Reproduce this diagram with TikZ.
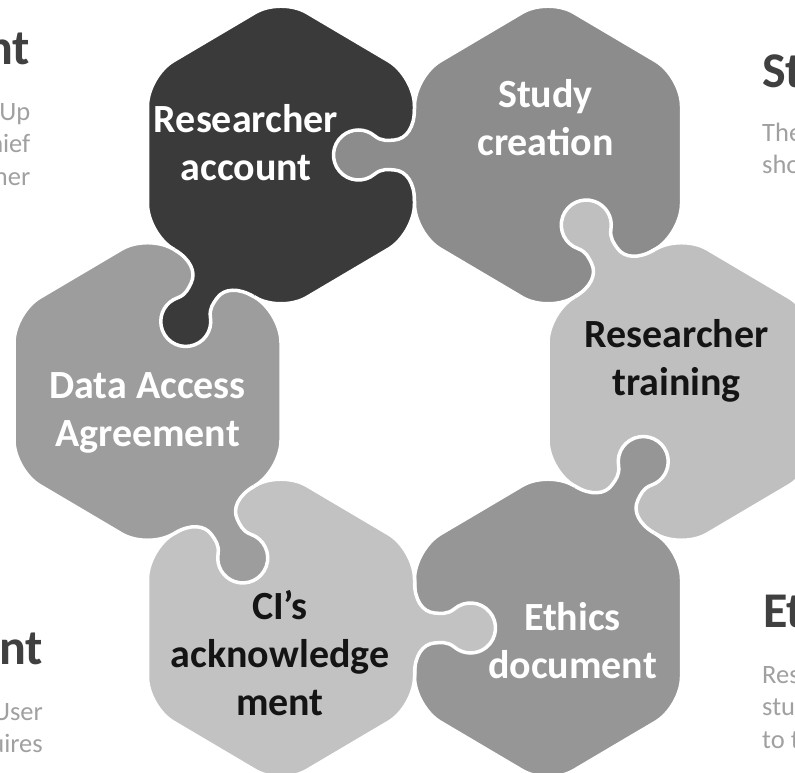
\documentclass[tikz,border=0pt]{standalone}
\usepackage{fontspec}
\setmainfont{Carlito}
\usetikzlibrary{calc}
\definecolor{cA}{HTML}{3A3A3A}
\definecolor{cB}{HTML}{8C8C8C}
\definecolor{cC}{HTML}{BFBFBF}
\definecolor{cD}{HTML}{969696}
\definecolor{cE}{HTML}{C2C2C2}
\definecolor{cF}{HTML}{9D9D9D}
\definecolor{headgray}{HTML}{404040}
\definecolor{bodygray}{HTML}{A0A0A0}
\definecolor{darktext}{HTML}{141414}
\begin{document}
\begin{tikzpicture}[x=1pt,y=1pt,
  hexcell/.style={draw=white, line width=3.5pt, rounded corners=30pt},
  pics/hexa/.style={code={
    \path[hexcell, fill=#1] (-133.5,0) -- (-133.5,78.85) -- (0,157.7) -- (133.5,78.85)
      -- (133.5,-78.85) -- (0,-157.7) -- (-133.5,-78.85) -- cycle;}},
  pics/knob/.style={code={
    \fill[#1] (-8,46) -- (0,46) .. controls (0,28) and (8,16) .. (20,15)
      .. controls (26,14.5) and (33,13.4) .. (39.93,19.15)
      arc[start angle=130, end angle=-130, radius=25]
      .. controls (33,-13.4) and (26,-14.5) .. (20,-15)
      .. controls (8,-16) and (0,-28) .. (0,-46) -- (-8,-46) -- cycle;
    \draw[white, line width=3.5pt] (0,46) .. controls (0,28) and (8,16) .. (20,15)
      .. controls (26,14.5) and (33,13.4) .. (39.93,19.15)
      arc[start angle=130, end angle=-130, radius=25]
      .. controls (33,-13.4) and (26,-14.5) .. (20,-15)
      .. controls (8,-16) and (0,-28) .. (0,-46);}},
  lbl/.style={font=\fontsize{40}{48}\selectfont\bfseries, align=center, inner sep=0pt, anchor=north},
  headtxt/.style={font=\fontsize{50}{60}\selectfont\bfseries, text=headgray, inner sep=0pt},
  bodytxt/.style={font=\fontsize{26.5}{32.5}\selectfont, text=bodygray, inner sep=0pt}
]
\clip (0,0) rectangle (795,773);
% hex centres
\coordinate (h1) at (281,618);
\coordinate (h2) at (548,618);
\coordinate (h3) at (681.5,381.5);
\coordinate (h4) at (548,145);
\coordinate (h5) at (281,145);
\coordinate (h6) at (147.5,381.5);
% hexagons
\pic at (h1) {hexa=cA};
\pic at (h2) {hexa=cB};
\pic at (h3) {hexa=cC};
\pic at (h4) {hexa=cD};
\pic at (h5) {hexa=cE};
\pic at (h6) {hexa=cF};
% knobs (owner colour, pointing into neighbour)
\pic[rotate=180] at ($(h1)!0.5!(h2)$) {knob=cB};
\pic[rotate=120.57] at ($(h2)!0.5!(h3)$) {knob=cC};
\pic[rotate=59.43] at ($(h3)!0.5!(h4)$) {knob=cD};
\pic[rotate=0] at ($(h4)!0.5!(h5)$) {knob=cE};
\pic[rotate=-59.43] at ($(h5)!0.5!(h6)$) {knob=cF};
\pic[rotate=-120.57] at ($(h6)!0.5!(h1)$) {knob=cA};
% labels
\node[lbl, text=white] (t1) at (246,674.6) {\strut Researcher\\account};
\node[lbl, text=white] (t2) at (545.5,699.6) {\strut Study\\creation};
\node[lbl, text=darktext] (t3) at (676.5,459.6) {\strut Researcher\\training};
\node[lbl, text=white] (t4) at (147.5,408.6) {\strut Data Access\\Agreement};
\node[lbl, text=darktext] (t5) at (280,187.6) {\strut CI’s\\acknowledge\\ment};
\node[lbl, text=white] (t6) at (572.5,176.6) {\strut Ethics\\document};
% side texts (cut by the page edge, as in the reference)
\node[headtxt, anchor=base east] (s1) at (30.5,708) {nt};
\node[bodytxt, anchor=north east, align=right] (s2) at (30.5,675.5) {\strut Up\\hief\\her};
\node[headtxt, anchor=base west] (s3) at (762,685) {St};
\node[bodytxt, anchor=north west, align=left] (s4) at (762,654.5) {\strut The\\sho};
\node[headtxt, anchor=base east] (s5) at (43,108) {nt};
\node[bodytxt, anchor=north east, align=right] (s6) at (43,75.5) {\strut User\\uires};
\node[headtxt, anchor=base west] (s7) at (763,145) {Et};
\node[bodytxt, anchor=north west, align=left] (s8) at (762,112.5) {\strut Res\\stu\\to t};
\end{tikzpicture}
\end{document}
